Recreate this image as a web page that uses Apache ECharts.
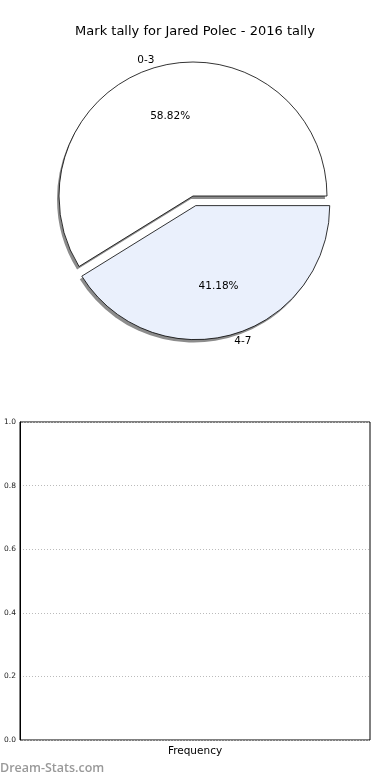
<!DOCTYPE html>
<html>
<head>
<meta charset="utf-8">
<script src="https://cdn.jsdelivr.net/npm/echarts@6/dist/echarts.min.js"></script>
<style>
  html, body { margin: 0; padding: 0; background: #fff; }
  #chart { width: 390px; height: 780px; }
</style>
</head>
<body>
<div id="chart"></div>
<script>
// chart data
const titleText = 'Mark tally for Jared Polec - 2016 tally'
const markBins = ['0-3', '4-7']
const markCounts = [10, 7]
const explodedBins = ['4-7']
const yTicks = [0, 0.2, 0.4, 0.6, 0.8, 1.0]
const xAxisName = 'Frequency'
const watermark = 'Dream-Stats.com'

const font = 'DejaVu Sans'
const sliceColors = ['#ffffff', '#eaf0fc']
const pieCenter = [193, 196]
const R = 134
const explodeOffset = 10
const shadowShift = [-2, 3]

const chart = echarts.init(document.getElementById('chart'))

// slices, shared by the shadow, the drawn pie and the transparent label pie
const buildData = (colors) => markBins.map((name, i) => ({
    name: name,
    value: markCounts[i],
    selected: explodedBins.includes(name),
    itemStyle: { color: colors ? colors[i] : 'transparent' }
}))

const pieBase = {
    type: 'pie',
    center: pieCenter,
    radius: [0, R],
    startAngle: 0,
    clockwise: false,
    selectedMode: 'multiple',
    selectedOffset: explodeOffset,
    avoidLabelOverlap: false,
    silent: true
}

chart.setOption({
    animation: false,
    title: {
        text: titleText,
        left: 'center',
        top: 20,
        textStyle: { fontFamily: font, fontSize: 13, fontWeight: 'normal', color: '#000' }
    },
    grid: {
        left: 20,
        right: 20,
        top: 422,
        height: 318,
        show: true,
        borderColor: '#000',
        borderWidth: 1,
        backgroundColor: 'transparent'
    },
    xAxis: {
        type: 'value',
        min: 0,
        max: 1,
        name: xAxisName,
        nameLocation: 'middle',
        nameGap: 6,
        nameTextStyle: { fontFamily: font, fontSize: 10.5, color: '#000' },
        axisLine: { show: false },
        axisTick: { show: false },
        axisLabel: { show: false },
        splitLine: { show: false }
    },
    yAxis: {
        type: 'value',
        min: yTicks[0],
        max: yTicks[yTicks.length - 1],
        interval: yTicks[1] - yTicks[0],
        axisLine: { show: true, lineStyle: { color: '#000', width: 1 } },
        axisTick: { show: false },
        axisLabel: {
            fontFamily: font, fontSize: 7.5, color: '#222', margin: 4,
            formatter: (v) => v.toFixed(1)
        },
        splitLine: { show: true, lineStyle: { color: '#bbb', type: [1, 2], width: 1 } }
    },
    graphic: [{
        type: 'text',
        left: 0,
        top: 762,
        style: { text: watermark, fontFamily: 'Open Sans', fontSize: 12.5, fontWeight: 600, fill: '#999' }
    }],
    series: [
        {
            // grey shadow copy behind the pie
            ...pieBase,
            center: [pieCenter[0] + shadowShift[0], pieCenter[1] + shadowShift[1]],
            itemStyle: { borderWidth: 0 },
            label: { show: false },
            labelLine: { show: false },
            data: buildData(['#8c8c8c', '#8c8c8c'])
        },
        {
            ...pieBase,
            itemStyle: { borderColor: '#000', borderWidth: 0.8 },
            label: {
                show: true,
                position: 'outside',
                formatter: '{b}',
                fontFamily: font,
                fontSize: 10.5,
                color: '#000',
                distanceToLabelLine: 0
            },
            labelLine: { show: false, length: 7, length2: 0 },
            data: buildData(sliceColors)
        },
        {
            // transparent copy, only for the percentages at 0.6 of the radius
            ...pieBase,
            radius: [0, R * 1.2],
            itemStyle: { borderWidth: 0 },
            label: {
                show: true,
                position: 'inside',
                formatter: (p) => p.percent.toFixed(2) + '%',
                fontFamily: font,
                fontSize: 10.5,
                color: '#000'
            },
            labelLine: { show: false },
            data: buildData(null)
        }
    ]
})
</script>
</body>
</html>
